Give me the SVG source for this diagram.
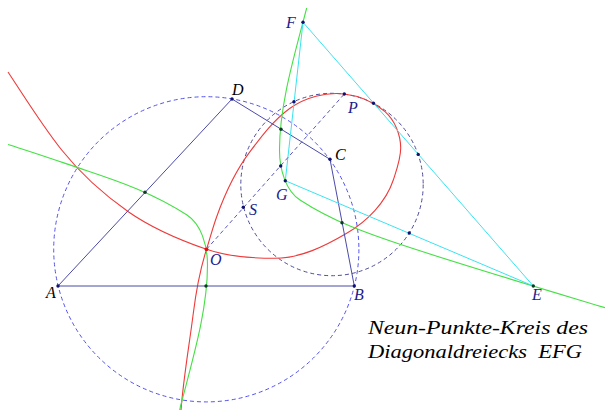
<svg xmlns="http://www.w3.org/2000/svg" width="605" height="410" viewBox="0 0 605 410">
<style>
.bg{fill:#ffffff}
.side{stroke:#4a4aa8;stroke-width:1;fill:none}
.tri{stroke:#38e4f0;stroke-width:1;fill:none}
.dc{stroke:#5252f0;stroke-width:1;fill:none;stroke-dasharray:4 3}
.dn{stroke:#4c4c9c;stroke-width:1;fill:none;stroke-dasharray:4 3}
.dl{stroke:#5a5ac0;stroke-width:1;fill:none;stroke-dasharray:4 3}
.red{stroke:#ee3a3a;stroke-width:1.1;fill:none}
.grn{stroke:#44e044;stroke-width:1.1;fill:none}
.pt{fill:#101070}
.pm{fill:#0c3c20}
.po{fill:#e01010}
.lb{font-family:"Liberation Serif","DejaVu Serif",serif;font-style:italic;font-size:16px;fill:#1c1c8c}
.lk{fill:#000000}
.tt{font-family:"Liberation Serif","DejaVu Serif",serif;font-style:italic;font-size:19px;fill:#000000;white-space:pre}
</style>
<rect class="bg" x="0" y="0" width="605" height="410"/>
<g id="curves">
<circle class="dc" cx="206.3" cy="249.3" r="152.6"/>
<circle class="dn" cx="332" cy="184.5" r="91.2"/>
<path class="red" d="M8,72 C25.5,98.3 42,125.3 61.7,150 C80.6,173.7 103.5,194.3 128.3,211.7 C152,228.3 179.2,239.8 206.5,249.3 C228.2,256.9 252,258.3 275,258.3 C300.3,258.3 324.9,246.2 346.7,233.3 C367,221.3 385.9,202.4 393.3,180 C396.7,169.6 400.7,158.9 400.7,148 C400.7,134.8 394.9,120.5 385,111.7 C373.9,101.9 359,95.8 344.3,94 C325.7,91.8 305.2,97.4 290,108.3 C274,119.8 261.8,135.9 250,151.7 C235.4,171.1 224.9,193.8 216.7,216.7 C212.8,227.4 210,238.4 206.5,249.3 C199.9,270.1 196,291.7 193.3,313.3 C189.2,345.5 183.5,377.6 181,410"/>
<path class="grn" d="M306.7,8 C293.7,58 279.5,105 279.5,150 C279.5,170 286,190.9 300,200 C333,221.5 367,233.3 400,244.3 C460,264.3 540,288.1 606,308"/>
<path class="grn" d="M179.7,410 L180.3,407 C193.3,357 207.5,310 207.5,265 C207.5,245 201,224.1 187,215 C154,193.5 120,181.7 87,170.7 C60.7,161.9 34.3,152.7 8,144.5"/>
</g>
<g id="connectors">
<line class="side" x1="58" y1="286" x2="354.3" y2="286"/>
<line class="side" x1="58" y1="286" x2="232" y2="99"/>
<line class="side" x1="232" y1="99" x2="330" y2="159.3"/>
<line class="side" x1="330" y1="159.3" x2="354.3" y2="286"/>
<line class="tri" x1="303" y1="22.3" x2="533.3" y2="286"/>
<line class="tri" x1="303" y1="22.3" x2="285.3" y2="180.7"/>
<line class="tri" x1="285.3" y1="180.7" x2="533.3" y2="286"/>
<line class="dl" x1="206.5" y1="249.3" x2="344.3" y2="94"/>
</g>
<g id="A"><circle class="pt" cx="58" cy="286" r="1.7"/><text class="lb lk" x="46" y="298">A</text></g>
<g id="B"><circle class="pt" cx="354.3" cy="286" r="1.7"/><text class="lb" x="354" y="300">B</text></g>
<g id="C"><circle class="pt" cx="330" cy="159.3" r="1.7"/><text class="lb lk" x="335" y="160">C</text></g>
<g id="D"><circle class="pt" cx="232" cy="99" r="1.7"/><text class="lb lk" x="232" y="95">D</text></g>
<g id="E"><circle class="pm" cx="533.3" cy="286" r="1.7"/><text class="lb" x="532" y="300">E</text></g>
<g id="F"><circle class="pt" cx="303" cy="22.3" r="1.7"/><text class="lb" x="286" y="28">F</text></g>
<g id="G"><circle class="pt" cx="285.3" cy="180.7" r="1.7"/><text class="lb" x="276" y="200">G</text></g>
<g id="O"><circle class="po" cx="206.5" cy="249.3" r="1.9"/><text class="lb" x="210" y="265">O</text></g>
<g id="S"><circle class="pt" cx="243.3" cy="207.3" r="1.7"/><text class="lb" x="249" y="215">S</text></g>
<g id="P"><circle class="pt" cx="344.3" cy="94" r="1.7"/><text class="lb" x="348" y="113">P</text></g>
<g id="M_AD"><circle class="pm" cx="145" cy="192.3" r="1.7"/></g>
<g id="M_AB"><circle class="pm" cx="206" cy="286" r="1.7"/></g>
<g id="M_BC"><circle class="pm" cx="342" cy="222.7" r="1.7"/></g>
<g id="M_DC"><circle class="pm" cx="281" cy="129.3" r="1.7"/></g>
<g id="M_FG"><circle class="pt" cx="294" cy="101.7" r="1.7"/></g>
<g id="H_EF"><circle class="pt" cx="373.5" cy="103.3" r="1.7"/></g>
<g id="M_EF"><circle class="pt" cx="418.2" cy="154.4" r="1.7"/></g>
<g id="M_GE"><circle class="pt" cx="409.3" cy="233" r="1.7"/></g>
<g id="Q"><circle class="pt" cx="280.7" cy="166" r="1.7"/></g>
<g id="title">
<text class="tt" x="368" y="334" textLength="220" lengthAdjust="spacingAndGlyphs">Neun-Punkte-Kreis des</text>
<text class="tt" x="368" y="357.5" textLength="214" lengthAdjust="spacingAndGlyphs">Diagonaldreiecks  EFG</text>
</g>
</svg>
